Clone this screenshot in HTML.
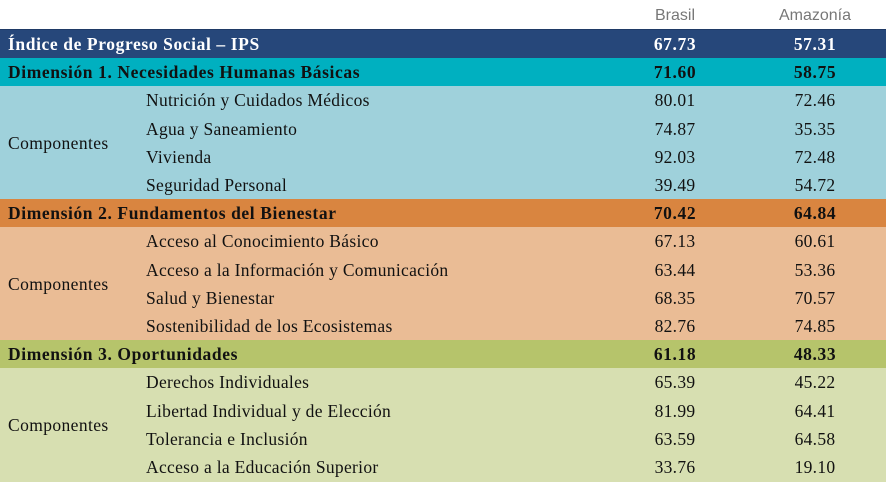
<!DOCTYPE html>
<html><head><meta charset="utf-8"><style>
body{margin:0;width:886px;height:486px;background:#fff;overflow:hidden;font-family:"Liberation Serif",serif;}
.hdr{position:absolute;top:0;height:29px;font-family:"Liberation Sans",sans-serif;color:#777;font-size:16px;line-height:31px;}
.row{position:absolute;left:0;width:886px;font-size:17.5px;line-height:29px;color:#111;letter-spacing:0.3px;}
.row span{position:absolute;white-space:nowrap;}
.l{left:8px}.c{left:146px}.b{left:640px;width:70px;text-align:center}.a{left:780px;width:70px;text-align:center}
.bold{font-weight:bold;letter-spacing:0.6px}
.comp{position:absolute;left:8px;font-size:17.5px;letter-spacing:0.4px;color:#111;}
</style></head><body>
<div class="hdr" style="left:640px;width:70px;text-align:center">Brasil</div>
<div class="hdr" style="left:770px;width:90px;text-align:center">Amazonía</div>
<div style="position:absolute;left:0;top:29px;width:886px;height:2px;background:#1f3a66"></div>
<div id="t"></div>
<script>
const rows=[
["Índice de Progreso Social – IPS","67.73","57.31","#26477a",1,"#fff"],
["Dimensión 1. Necesidades Humanas Básicas","71.60","58.75","#00b0c0",1],
["Nutrición y Cuidados Médicos","80.01","72.46","#9fd1db",0],
["Agua y Saneamiento","74.87","35.35","#9fd1db",0],
["Vivienda","92.03","72.48","#9fd1db",0],
["Seguridad Personal","39.49","54.72","#9fd1db",0],
["Dimensión 2. Fundamentos del Bienestar","70.42","64.84","#d98540",1],
["Acceso al Conocimiento Básico","67.13","60.61","#eabc95",0],
["Acceso a la Información y Comunicación","63.44","53.36","#eabc95",0],
["Salud y Bienestar","68.35","70.57","#eabc95",0],
["Sostenibilidad de los Ecosistemas","82.76","74.85","#eabc95",0],
["Dimensión 3. Oportunidades","61.18","48.33","#b6c46b",1],
["Derechos Individuales","65.39","45.22","#d7dfb1",0],
["Libertad Individual y de Elección","81.99","64.41","#d7dfb1",0],
["Tolerancia e Inclusión","63.59","64.58","#d7dfb1",0],
["Acceso a la Educación Superior","33.76","19.10","#d7dfb1",0]];
let h="";const top0=30,rh=28.2;
rows.forEach((r,i)=>{const y=top0+i*rh;
h+=`<div class="row ${r[4]?'bold':''}" style="top:${y}px;background:${r[3]};color:${r[5]||'#111'};height:${rh+0.5}px"><span class="${r[4]?'l':'c'}">${r[0]}</span><span class="b">${r[1]}</span><span class="a">${r[2]}</span></div>`;});
[2,7,12].forEach(s=>{h+=`<div class="comp" style="top:${top0+s*rh+rh*2-10}px">Componentes</div>`;});
document.getElementById("t").innerHTML=h;
</script>
</body></html>
